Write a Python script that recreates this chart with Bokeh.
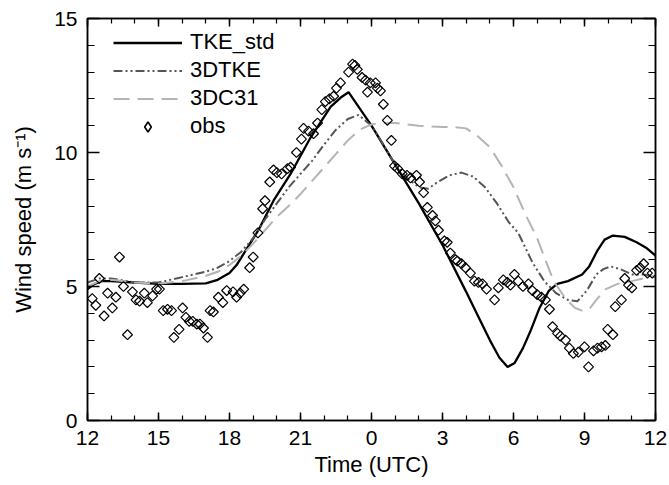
import numpy as np
from bokeh.plotting import figure
from bokeh.models import Range1d, FixedTicker, LinearAxis, Legend, LegendItem, ColumnDataSource
from bokeh.embed import file_html
from bokeh.resources import INLINE

# x = hours since 12 UTC (0..24)
tick_pos = [0, 3, 6, 9, 12, 15, 18, 21, 24]
tick_labels = ["12", "15", "18", "21", "0", "3", "6", "9", "12"]
y_ticks = [0, 5, 10, 15]

tke_h = [0, 0.3, 0.6, 1, 2, 3, 4, 5, 5.5, 6.0, 6.3, 6.76, 7.22, 7.86, 8.58, 9.42, 10.27, 10.7, 11.03,
         12, 13, 14, 15, 16, 16.5, 17, 17.4, 17.75, 18.05, 18.4, 18.7, 19.1, 19.5, 19.85, 20.3, 20.9,
         21.2, 21.55, 21.85, 22.2, 22.7, 23.2, 23.6, 24]
tke_v = [4.9, 5.1, 5.2, 5.2, 5.15, 5.1, 5.1, 5.12, 5.25, 5.5, 5.8, 6.45, 7.1, 8.2, 9.2, 10.55, 11.7, 12.05, 12.25,
         11.0, 9.55, 8.1, 6.55, 4.8, 3.9, 3.0, 2.35, 2.0, 2.15, 2.7, 3.3, 4.2, 4.85, 5.1, 5.2, 5.45,
         5.75, 6.35, 6.75, 6.9, 6.85, 6.65, 6.45, 6.15]

d3tke_h = [0, 0.5, 1, 2, 3, 4, 5, 5.5, 6, 6.5, 7, 7.5, 8, 8.5, 9, 9.5, 10, 10.5, 11, 11.45, 12, 12.5, 13,
           13.5, 14, 14.4, 14.8, 15.3, 15.8, 16.3, 16.8, 17.3, 17.8, 18.2, 18.8, 19.3, 19.8, 20.3, 20.7,
           21.1, 21.5, 21.8, 22.1, 22.5, 23, 23.5, 24]
d3tke_v = [5.15, 5.3, 5.3, 5.15, 5.15, 5.35, 5.55, 5.7, 5.95, 6.3, 6.8, 7.5, 8.1, 8.7, 9.2, 9.7, 10.3, 10.85, 11.25, 11.4, 11.0, 10.3, 9.55,
           9.05, 8.7, 8.65, 8.9, 9.15, 9.25, 9.1, 8.7, 8.1, 7.4, 7.0, 5.9, 5.2, 4.75, 4.5, 4.45,
           4.85, 5.45, 5.65, 5.75, 5.65, 5.45, 5.45, 5.35]

d3c31_h = [0, 0.5, 1, 2, 3, 4, 5, 5.5, 6, 6.5, 7, 7.5, 8, 8.5, 9, 9.5, 10, 10.5, 11, 11.5, 12, 12.5, 13,
           14, 15, 15.5, 16, 16.5, 17, 17.5, 18, 18.5, 19, 19.3, 19.7, 20.2, 20.6, 20.9, 21.2, 21.5, 21.9,
           22.4, 23, 23.5, 24]
d3c31_v = [5.0, 5.2, 5.25, 5.15, 5.1, 5.2, 5.4, 5.55, 5.8, 6.15, 6.6, 7.1, 7.6, 8.0, 8.45, 8.95, 9.45, 9.95, 10.45, 10.85, 11.05, 11.1, 11.1,
           11.0, 10.95, 10.95, 10.9, 10.6, 10.2, 9.5, 8.7, 7.7, 6.8, 6.1, 5.2, 4.55, 4.2, 4.1, 4.15, 4.5, 4.9,
           5.1, 5.2, 5.3, 5.4]

obs_h = [0.2, 0.35, 0.5, 0.7, 0.85, 1.05, 1.2, 1.35, 1.52, 1.69, 1.9, 2.05, 2.2, 2.4, 2.53, 2.75, 2.92, 3.04,
         3.2, 3.38, 3.55, 3.65, 3.87, 4.02, 4.16, 4.3, 4.45, 4.62, 4.75, 4.9, 5.07, 5.18, 5.32, 5.53, 5.72,
         5.88, 6.15, 6.3, 6.45, 6.6, 6.85, 7.0, 7.2, 7.4, 7.5, 7.7, 7.86, 8.0, 8.2, 8.45, 8.58, 8.83, 9.04,
         9.13, 9.34, 9.55, 9.72, 9.9, 10.05, 10.22, 10.4, 10.52, 10.69, 11.03, 11.2, 11.3, 11.4, 11.6, 11.75,
         11.83, 11.95, 12.17, 12.25, 12.38, 12.5, 12.67, 12.84, 12.97, 13.1, 13.3, 13.5, 13.65, 13.9, 14.03,
         14.2, 14.36, 14.58, 14.7, 14.83, 15.08, 15.2, 15.33, 15.55, 15.63, 15.8, 15.97, 16.18, 16.35, 16.52,
         16.69, 16.86, 17.2, 17.36, 17.57, 17.74, 17.87, 18.04, 18.2, 18.4, 18.63, 18.8, 19.0, 19.18, 19.35,
         19.52, 19.65, 19.86, 19.98, 20.2, 20.36, 20.53, 20.74, 21.0, 21.17, 21.38, 21.55, 21.72, 21.88,
         21.98, 22.2, 22.3, 22.56, 22.7, 22.86, 23.0, 23.2, 23.35, 23.5, 23.66, 23.86]
obs_v = [4.55, 4.3, 5.3, 3.9, 4.75, 4.2, 4.6, 6.1, 5.0, 3.2, 4.8, 4.5, 4.45, 4.75, 4.4, 4.65, 4.9, 4.9,
         4.1, 4.15, 4.1, 3.1, 3.4, 4.2, 3.85, 3.7, 3.7, 3.6, 3.6, 3.45, 3.1, 4.1, 4.05, 4.6, 4.4,
         4.85, 4.8, 4.6, 4.75, 4.9, 5.7, 6.1, 7.0, 7.9, 8.2, 8.9, 9.35, 9.25, 9.2, 9.4, 9.45, 10.0, 10.5,
         10.9, 10.8, 10.7, 11.1, 11.6, 11.9, 12.0, 12.1, 12.4, 12.6, 13.0, 13.3, 13.25, 13.1, 12.8, 12.7,
         12.25, 12.6, 12.6, 12.4, 12.3, 11.8, 11.2, 10.45, 9.5, 9.4, 9.2, 9.15, 9.05, 9.15, 8.9,
         8.5, 7.95, 7.65, 7.45, 7.1, 6.7, 6.65, 6.25, 6.0, 5.95, 5.85, 5.7, 5.5, 5.2, 5.15,
         5.1, 4.9, 4.5, 4.95, 5.25, 5.15, 5.05, 5.45, 5.2, 5.0, 5.1, 4.85, 4.7, 4.6, 4.5,
         4.15, 3.5, 3.25, 3.15, 3.0, 2.7, 2.5, 2.55, 2.75, 2.0, 2.6, 2.7, 2.75, 2.8,
         3.4, 3.2, 4.25, 4.5, 5.3, 5.05, 4.95, 5.6, 5.7, 5.85, 5.5, 5.5]

FONT = "Liberation Sans"

p = figure(width=669, height=485, output_backend="svg", toolbar_location=None,
           x_range=Range1d(0, 24), y_range=Range1d(0, 15),
           min_border_left=87, min_border_right=14, min_border_top=18, min_border_bottom=65)
p.grid.visible = False
p.outline_line_color = "black"
p.outline_line_width = 1.5
p.background_fill_color = "white"
p.border_fill_color = "white"

overrides = {t: l for t, l in zip(tick_pos, tick_labels)}


def style_axis(ax, major_in, minor_in, show_labels=True):
    ax.axis_line_color = "black"
    ax.axis_line_width = 1.5
    ax.major_tick_line_color = "black"
    ax.major_tick_line_width = 1.5
    ax.minor_tick_line_color = "black"
    ax.minor_tick_line_width = 1.2
    ax.major_tick_in = major_in
    ax.major_tick_out = 0
    ax.minor_tick_in = minor_in
    ax.minor_tick_out = 0
    ax.major_label_text_font = FONT
    ax.major_label_text_color = "black"
    ax.major_label_text_font_size = "21px"
    ax.major_label_standoff = 10 if show_labels else 0
    ax.axis_label_text_font = FONT
    ax.axis_label_text_font_size = "22px"
    ax.axis_label_text_font_style = "normal"
    ax.axis_label_text_color = "black"


xa = p.xaxis[0]
xa.ticker = FixedTicker(ticks=tick_pos, minor_ticks=list(range(25)))
xa.major_label_overrides = overrides
xa.axis_label = "Time (UTC)"
style_axis(xa, 8, 5)
xa.axis_label_standoff = 4

ya = p.yaxis[0]
ya.ticker = FixedTicker(ticks=y_ticks, minor_ticks=list(range(16)))
ya.axis_label = "Wind speed (m s\u207b\u00b9)"
style_axis(ya, 12, 7)
ya.axis_label_standoff = 15

top = LinearAxis(ticker=FixedTicker(ticks=tick_pos, minor_ticks=list(range(25))))
style_axis(top, 8, 5, show_labels=False)
top.major_label_overrides = {t: "" for t in tick_pos}
p.add_layout(top, "above")
right = LinearAxis(ticker=FixedTicker(ticks=y_ticks, minor_ticks=list(range(16))))
style_axis(right, 12, 7, show_labels=False)
right.major_label_overrides = {t: "" for t in y_ticks}
p.add_layout(right, "right")

obs_src = ColumnDataSource(data=dict(h=obs_h, v=obs_v))

r1 = p.line(tke_h, tke_v, line_color="black", line_width=2.3)
r2 = p.line(d3tke_h, d3tke_v, line_color="#555555", line_width=2, line_dash="9 3 2 3 2 3")
r3 = p.line(d3c31_h, d3c31_v, line_color="#b4b4b4", line_width=2, line_dash="16 8")
r4 = p.scatter("h", "v", source=obs_src, marker="square", size=7, angle=np.pi / 4,
               fill_color=None, line_color="black", line_width=1.2)
# zero-size companion of the obs markers: draws nothing in the frame, gives the legend a diamond sample
r4_leg = p.scatter("h", "v", source=obs_src, marker="diamond", size=0,
                   fill_color=None, line_color="black", line_width=1.6)

legend = Legend(items=[LegendItem(label="TKE_std", renderers=[r1]),
                       LegendItem(label="3DTKE", renderers=[r2]),
                       LegendItem(label="3DC31", renderers=[r3]),
                       LegendItem(label="obs", renderers=[r4_leg])],
                location=(26, 281), border_line_color=None, background_fill_alpha=0,
                padding=0, margin=0, glyph_width=69, glyph_height=25, label_height=25,
                spacing=2, label_standoff=8, label_text_font=FONT, label_text_font_size="22px",
                label_text_color="black")
p.add_layout(legend)

open("out.html", "w").write(file_html(p, INLINE))
